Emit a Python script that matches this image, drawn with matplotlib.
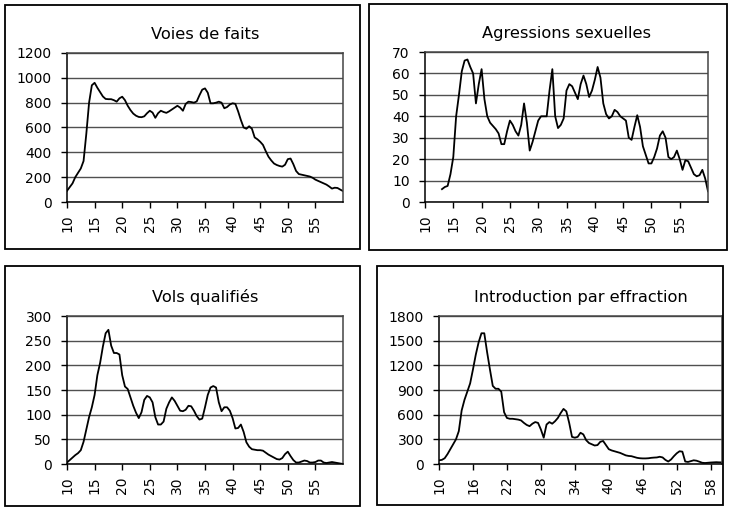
import numpy as np
import matplotlib
matplotlib.use("Agg")
import matplotlib.pyplot as plt
from matplotlib.patches import Rectangle

plt.rcParams['font.family'] = ['DejaVu Sans']

# ages (half-year steps, category axis)
ages = np.arange(10, 60.5, 0.5)

voies_de_faits = [
    90, 120, 150, 200, 235, 270, 330, 550, 800, 940,
    960, 920, 885, 850, 830, 828, 828, 820, 808, 835,
    848, 820, 775, 740, 712, 695, 685, 683, 690, 715,
    735, 720, 678, 715, 735, 725, 718, 730, 745, 760,
    775, 760, 735, 790, 808, 805, 800, 810, 860, 905,
    915, 880, 795, 795, 800, 808, 800, 755, 765, 785,
    795, 790, 730, 660, 600, 590, 610, 590, 520, 505,
    485, 460, 410, 365, 335, 310, 298, 290, 285, 300,
    345, 350, 305, 250, 225, 220, 215, 210, 205, 195,
    180, 170, 160, 150, 140, 125, 108, 115, 113, 100,
    88]

agressions_sexuelles = [
    np.nan, np.nan, np.nan, np.nan, np.nan, np.nan, 6, 7, 7.5, 13,
    21, 40, 50, 61, 66, 66.5, 63, 60, 46, 55,
    62, 48, 40, 37, 35.5, 34, 32, 27, 27, 33,
    38, 36, 33, 31, 36, 46, 37, 24, 28, 33,
    38, 40, 40, 40, 52, 62, 40, 34.5, 36, 39,
    52, 55, 54, 51, 48, 55, 59, 55, 49, 52,
    57, 63, 58, 46, 41, 39, 40, 43, 42, 40,
    39, 38, 30, 29, 35, 40.5, 35, 26, 22, 18,
    18, 21, 25, 31, 33, 30, 21, 20, 21, 24,
    20, 15, 19.5, 19, 16, 13, 12, 12.5, 15, 11,
    5]

vols_qualifies = [
    3, 8, 13, 18, 22, 28, 45, 70, 95, 115,
    140, 180, 205, 238, 265, 272, 240, 225, 225, 222,
    180, 157, 152, 135, 118, 104, 93, 105, 130, 138,
    135, 125, 95, 80, 80, 86, 112, 125, 135, 128,
    118, 108, 107, 110, 118, 117, 108, 97, 90, 92,
    115, 140, 155, 158, 155, 125, 107, 115, 115, 108,
    93, 72, 73, 80, 65, 44, 35, 30, 29, 28,
    28, 27, 23, 19, 16, 13, 10, 9, 12, 20,
    25, 16, 8, 3, 3, 5, 7, 6, 3, 3,
    4, 7, 7, 3, 2, 3, 4, 3, 2, 1,
    0]

introduction_effraction = [
    45, 50, 70, 120, 180, 240, 300, 400, 650, 780,
    880, 980, 1150, 1330, 1480, 1590, 1590, 1360, 1150, 950,
    915, 915, 880, 630, 560, 550, 550, 545, 540, 530,
    500, 475, 460, 490, 510, 500, 420, 320, 480, 510,
    490, 520, 560, 620, 670, 640, 500, 330, 320, 330,
    380, 360, 290, 255, 240, 225, 230, 270, 280, 230,
    180, 165, 155, 145, 135, 120, 105, 98, 95, 85,
    75, 70, 68, 68, 70, 75, 78, 80, 88, 80,
    50, 30, 55, 95, 130, 155, 150, 30, 25, 35,
    45, 40, 28, 15, 12, 15, 18, 20, 22, 20,
    20]

W, H = 731, 511


def rect(l, t, r, b):
    return [l / W, 1 - b / H, (r - l) / W, (b - t) / H]


fig = plt.figure(figsize=(W / 100, H / 100), dpi=100)

# cadres des quatre graphiques
frames = [(5, 5, 360, 249), (369, 4, 727, 250), (5, 266, 360, 506), (377, 266, 723, 505)]
for l, t, r, b in frames:
    fig.patches.append(Rectangle((l / W, 1 - b / H), (r - l) / W, (b - t) / H,
                                 transform=fig.transFigure, fill=False,
                                 edgecolor='black', linewidth=1.3))

panels = [
    ("Voies de faits", voies_de_faits, (67, 53, 343, 202), 1200, 200, np.arange(10, 60, 5)),
    ("Agressions sexuelles", agressions_sexuelles, (425, 52, 708, 202), 70, 10, np.arange(10, 60, 5)),
    ("Vols qualifiés", vols_qualifies, (67, 316, 343, 464), 300, 50, np.arange(10, 60, 5)),
    ("Introduction par effraction", introduction_effraction, (439, 316, 722, 464), 1800, 300, np.arange(10, 60, 6)),
]

for titre, valeurs, pos, ymax, ystep, xt in panels:
    ax = fig.add_axes(rect(*pos))
    ax.plot(ages, valeurs, color='black', linewidth=1.3)
    ax.set_xlim(10, 60)
    ax.set_ylim(0, ymax)
    ax.set_yticks(np.arange(0, ymax + 1, ystep))
    ax.set_xticks(xt)
    ax.set_xticklabels([str(v) for v in xt], rotation=90)
    ax.yaxis.grid(True, color='#505050', linewidth=1.0)
    ax.set_axisbelow(True)
    for s in ax.spines.values():
        s.set_color('black')
        s.set_linewidth(1.1)
    ax.spines['top'].set_color('#444444')
    ax.spines['right'].set_color('#444444')
    ax.tick_params(axis='both', direction='out', length=4, width=1,
                   labelsize=10, color='black')
    ax.tick_params(axis='y', pad=7)
    ax.tick_params(axis='x', pad=5)
    ax.set_title(titre, fontsize=11.7, pad=10)

fig.savefig("out.png", dpi=100)
